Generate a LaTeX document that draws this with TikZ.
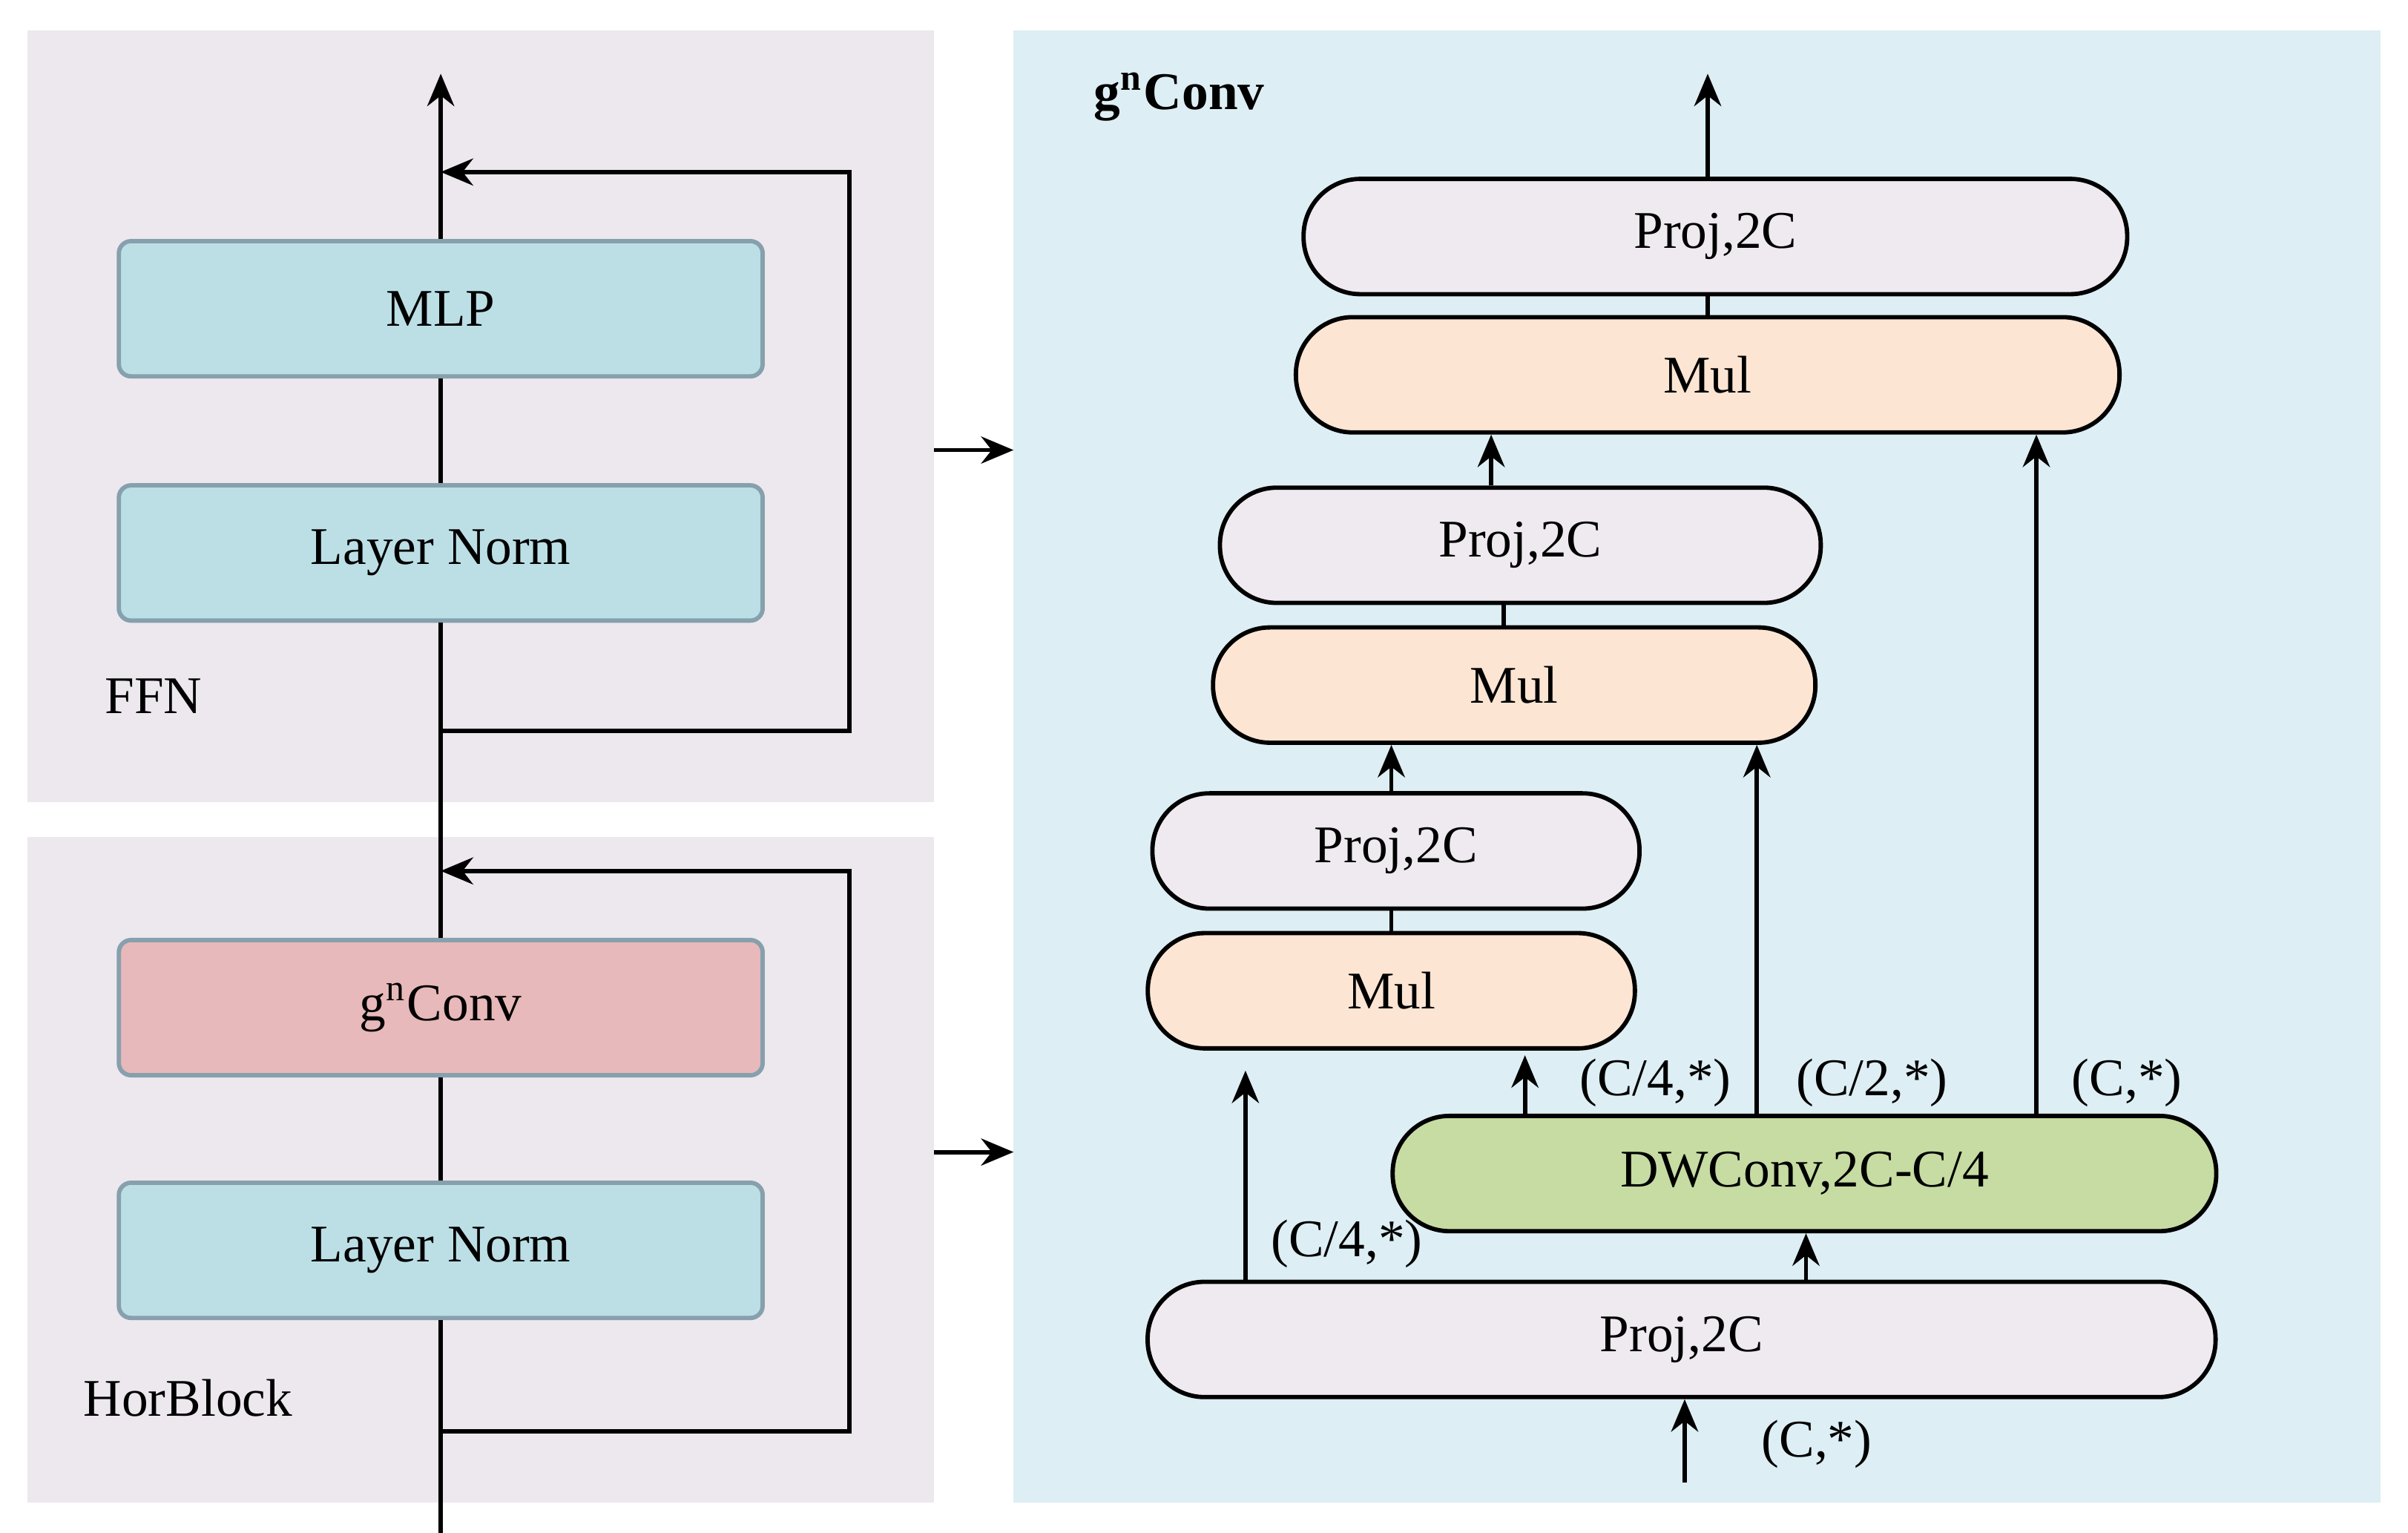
\documentclass[tikz,border=0pt]{standalone}
\usepackage{fontspec}
\setmainfont{Liberation Serif}
\usetikzlibrary{arrows.meta}
\definecolor{panelgrey}{HTML}{ECE8EE}
\definecolor{panelblue}{HTML}{DDEEF4}
\definecolor{boxblue}{HTML}{BCDFE6}
\definecolor{boxred}{HTML}{E8B9BA}
\definecolor{pillgrey}{HTML}{EEEAF0}
\definecolor{pillorange}{HTML}{FCE5D3}
\definecolor{pillgreen}{HTML}{C6DCA2}
\begin{document}
\begin{tikzpicture}[x=0.01cm,y=-0.01cm,
  txt/.style={font=\fontsize{9.8}{12}\selectfont},
  blk/.style={txt,draw=black!60!cyan!60,line width=0.8pt,rounded corners=0.08cm,minimum width=4.19cm,minimum height=0.88cm},
  pill/.style={txt,draw=black,line width=0.8pt,rounded corners=0.37cm,minimum height=0.75cm},
  arr/.style={-{Stealth[length=6pt,width=5pt]},line width=0.8pt},
  ln/.style={line width=0.8pt}]
\useasboundingbox (0,0) rectangle (1568,998);
\fill[panelgrey] (18,20) rectangle (608,522);
\fill[panelgrey] (18,545) rectangle (608,978);
\fill[panelblue] (660,20) rectangle (1550,978);
% left
\coordinate (bot) at (287,998);
\coordinate (top) at (287,48);
\node[blk,fill=boxblue] (mlp) at (287,201) {MLP};
\node[blk,fill=boxblue] (ln1) at (287,360) {Layer Norm};
\node[blk,fill=boxred] (gc) at (287,656) {g$^{\mathrm n}$Conv};
\node[blk,fill=boxblue] (ln2) at (287,814) {Layer Norm};
\node[txt,anchor=west] (ffn) at (56,453) {FFN};
\node[txt,anchor=west] (hb) at (42,910) {HorBlock};
\draw[ln] (bot) -- (ln2.south);
\draw[ln] (ln2.north) -- (gc.south);
\draw[ln] (gc.north) -- (ln1.south);
\draw[ln] (ln1.north) -- (mlp.south);
\draw[arr] (mlp.north) -- (top);
\coordinate (r1) at (287,932); \coordinate (r1t) at (287,567);
\draw[arr] (r1) -| (553,567) -- (r1t);
\coordinate (r2) at (287,476); \coordinate (r2t) at (287,112);
\draw[arr] (r2) -| (553,112) -- (r2t);
\coordinate (a1) at (608,293); \coordinate (b1) at (660,293);
\coordinate (a2) at (608,750); \coordinate (b2) at (660,750);
\draw[arr] (a1) -- (b1);
\draw[arr] (a2) -- (b2);
% right
\node[txt,anchor=west,font=\fontsize{9.8}{12}\selectfont\bfseries] (title) at (700,63) {g$^{\mathbf n}$Conv};
\node[pill,fill=pillgrey,minimum width=5.36cm] (p4) at (1117,154) {Proj,2C};
\node[pill,fill=pillorange,minimum width=5.36cm] (m3) at (1112,244) {Mul};
\node[pill,fill=pillgrey,minimum width=3.91cm] (p3) at (990,355) {Proj,2C};
\node[pill,fill=pillorange,minimum width=3.92cm] (m2) at (986,446) {Mul};
\node[pill,fill=pillgrey,minimum width=3.17cm] (p2) at (909,554) {Proj,2C};
\node[pill,fill=pillorange,minimum width=3.17cm] (m1) at (906,645) {Mul};
\node[pill,fill=pillgreen,minimum width=5.36cm] (dw) at (1175,764) {DWConv,2C-C/4};
\node[pill,fill=pillgrey,minimum width=6.95cm] (p1) at (1095,872) {Proj,2C};
\coordinate (out) at (1112,48);
\draw[arr] (p4.north -| out) -- (out);
\draw[ln] (m3.north -| out) -- (p4.south -| out);
\draw[arr] (p3.north -| 971,0) -- (m3.south -| 971,0);
\draw[ln] (m2.north -| 979,0) -- (p3.south -| 979,0);
\draw[arr] (p2.north -| 906,0) -- (m2.south -| 906,0);
\draw[ln] (m1.north -| 906,0) -- (p2.south -| 906,0);
\coordinate (in) at (1097,965);
\draw[arr] (in) -- (p1.south -| in);
\node[txt] (lin) at (1183,940) {(C,*)};
\draw[arr] (p1.north -| 1176,0) -- (dw.south -| 1176,0);
\coordinate (c1) at (811,697);
\draw[arr] (p1.north -| c1) -- (c1);
\node[txt] (l1) at (877,810) {(C/4,*)};
\coordinate (c2) at (993,687);
\draw[arr] (dw.north -| c2) -- (c2);
\node[txt] (l2) at (1078,705) {(C/4,*)};
\draw[arr] (dw.north -| 1144,0) -- (m2.south -| 1144,0);
\node[txt] (l3) at (1219,705) {(C/2,*)};
\draw[arr] (dw.north -| 1326,0) -- (m3.south -| 1326,0);
\node[txt] (l4) at (1385,705) {(C,*)};
\end{tikzpicture}
\end{document}
